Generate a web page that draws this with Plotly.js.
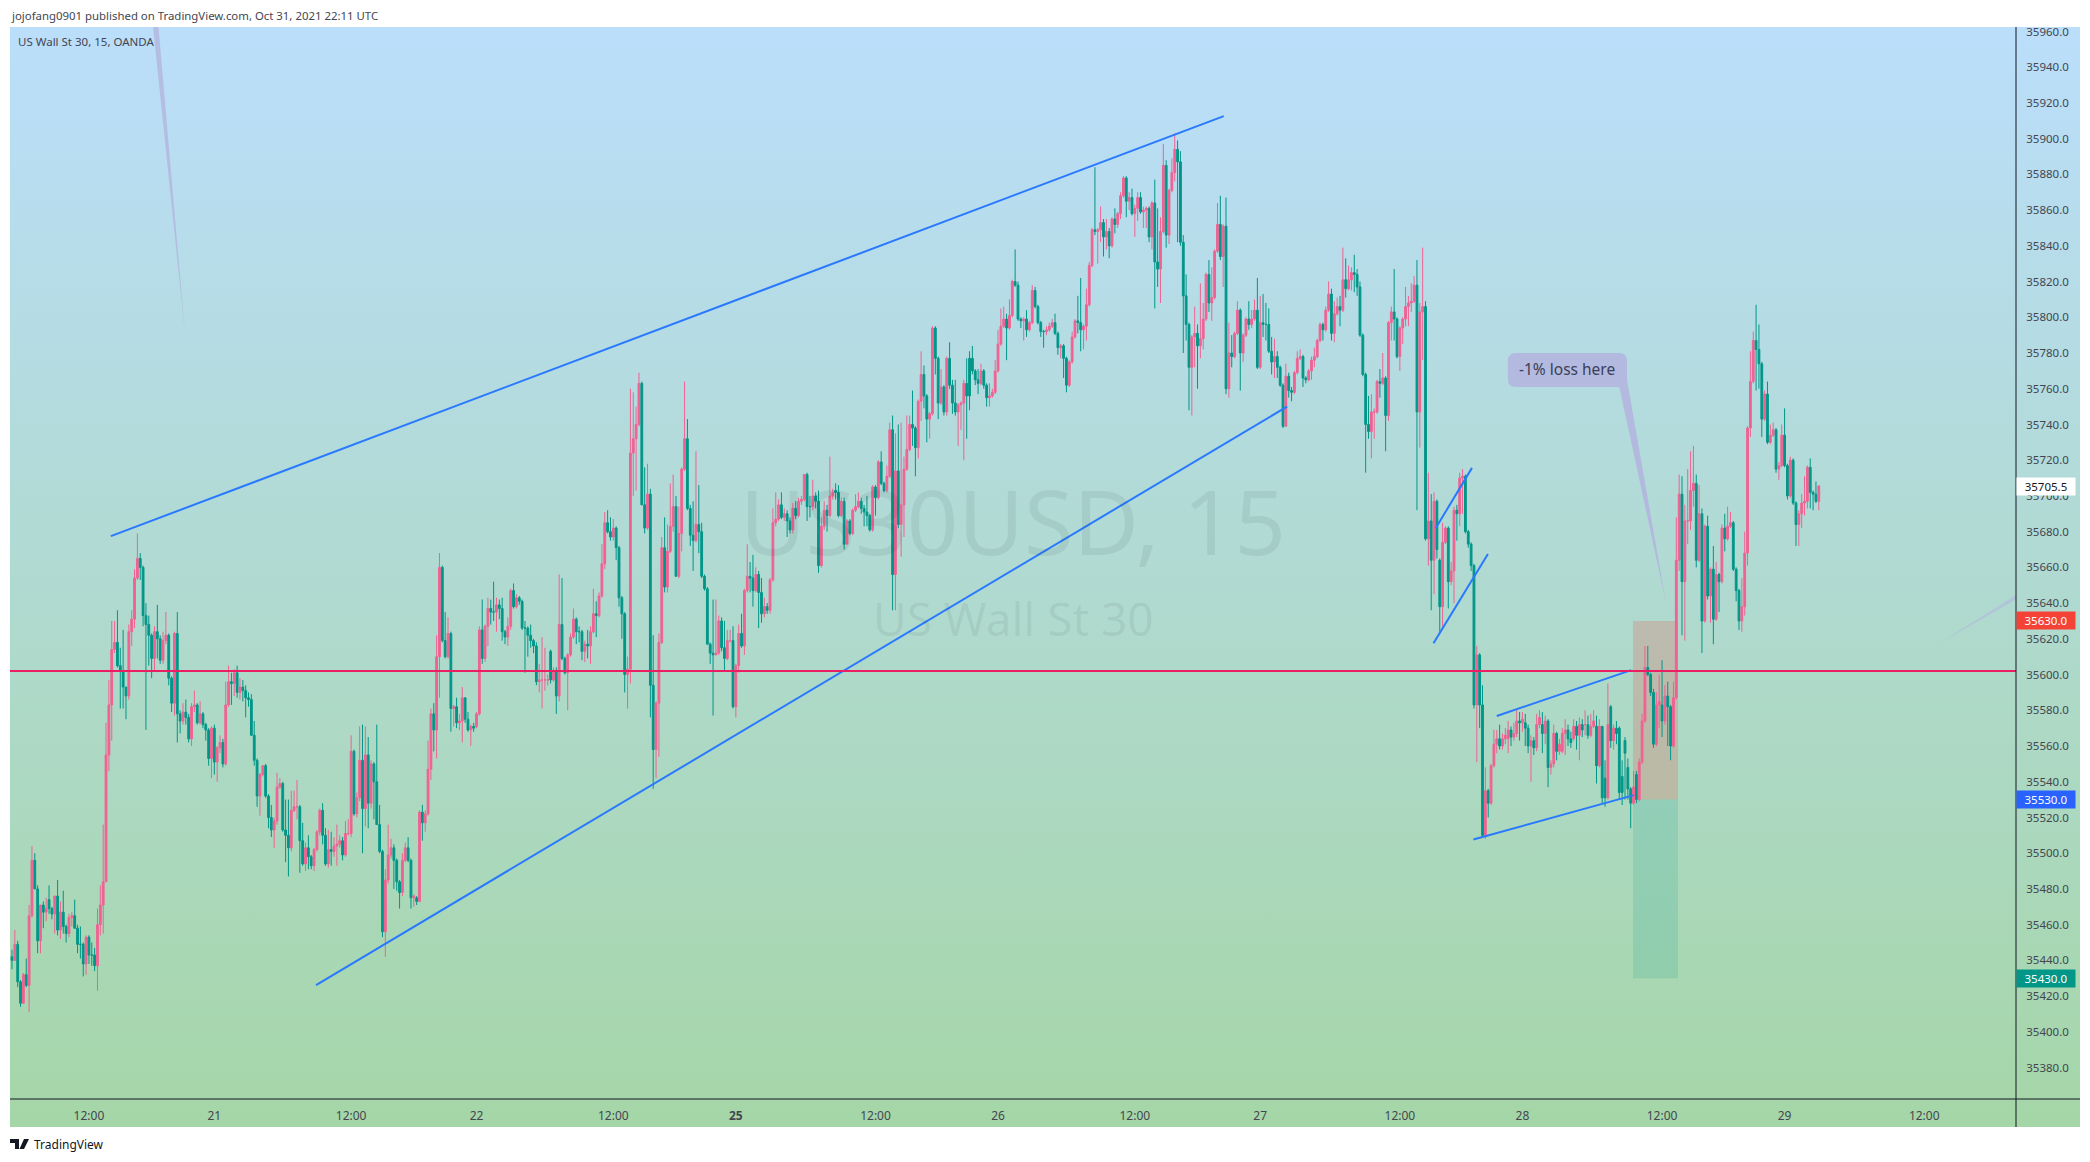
<!DOCTYPE html>
<html>
<head>
<meta charset="utf-8">
<title>US Wall St 30, 15, OANDA</title>
<script src="https://cdn.plot.ly/plotly-3.0.1.min.js"></script>
<style>
  html, body { margin: 0; padding: 0; background: #fff; }
  #panel { position: absolute; left: 10px; top: 27px; width: 2070px; height: 1100px;
           background: linear-gradient(#bbdefb, #a5d6a7); }
  #chart { position: absolute; left: 0; top: 0; width: 2090px; height: 1162px; }
</style>
</head>
<body>
<div id="panel"></div>
<div id="chart"></div>
<script>
// ---- Data (prices are stored minus priceBase) ----
const priceBase = 35000;

const opens = [
  442,440,449,428,416,432,426,465,496,480, 451,471,467,474,469,466,476,457,467,459,
  455,464,465,458,449,449,438,453,443,443, 437,460,471,484,555,583,614,618,605,602,
  593,588,624,631,654,665,660,633,628,622, 609,624,620,608,619,622,598,584,623,578,
  574,579,576,564,582,583,573,578,572,569, 553,570,551,559,562,550,583,596,595,601,
  590,593,591,587,586,566,552,532,544,549, 532,520,513,518,537,539,513,510,503,524,
  526,526,507,494,503,498,493,502,512,524, 510,494,502,501,504,505,507,499,511,511,
  557,522,531,552,525,555,528,550,540,516, 501,456,485,499,503,496,484,478,496,503,
  496,475,475,473,523,517,522,547,578,569, 610,660,619,610,623,581,582,573,574,587,
  575,569,571,571,578,625,609,627,637,635, 635,639,
  637,624,621,627,647,638,643,641,626,626, 622,619,616,596,597,597,597,613,597,602,
  588,628,609,601,611,621,631,624,624,613, 617,616,624,634,633,644,662,685,680,677,
  682,671,643,634,600,603,724,732,740,763, 695,682,701,594,558,584,618,671,649,669,
  683,694,655,679,715,732,693,678,675,684, 680,655,648,617,612,611,612,630,615,609,
  619,619,582,605,623,616,647,655,654,647, 656,646,634,638,636,653,685,687,695,688,
  690,686,681,693,689,697,698,712,694,694, 700,697,
  661,683,692,689,700,703,702,689,697,673, 686,679,692,694,697,693,691,689,681,705,
  699,719,707,703,711,737,656,714,684,695, 715,726,740,738,727,753,768,756,743,746,
  794,777,752,761,747,777,762,752,747,751, 752,763,777,777,770,765,763,770,762,755,
  756,758,770,785,795,799,794,801,820,818, 799,798,799,793,797,815,806,797,792,792,
  793,795,797,791,783,784,777,762,775,789, 798,797,793,795,807,829,
  849,848,849,853,845,848,840,855,852,858, 868,878,865,867,858,861,867,859,860,861,
  845,864,831,827,848,885,846,871,881,894, 887,842,812,796,772,789,791,784,788,799,
  824,808,811,837,852,834,851,760,780,778, 791,804,780,790,799,796,799,804,772,797,
  796,796,781,775,778,772,762,739,767,759, 758,769,777,778,766,765,770,776,778,787,
  796,793,804,813,791,802,806,804,821,816, 821,825,824,817,790,768,740,736,747,747,
  764,763,766,745,797,803,799,778,794,799, 806,808,809,818,747,803,
  806,676,686,664,697,664,638,674,682,652, 658,692,690,710,711,680,673,661,583,611,
  583,510,535,528,549,561,564,560,564,564, 569,565,567,574,573,573,570,560,563,559,
  572,572,567,574,548,550,567,557,557,567, 569,564,564,571,566,572,572,572,566,571,
  571,549,571,542,531,582,563,570,570,543, 563,548,536,528,544,530,551,574,604,600,
  590,561,583,583,574,588,582,560,587,
  664,701,652,686,686,703,707,664,690,630, 683,644,659,631,656,652,682,676,683,685,
  659,647,630,638,668,738,764,787,782,774, 743,757,730,734,737,715,717,734,717,700,
  720,696,684,690,696,697,716,702,701,697
];

const highs = [
  446,457,451,429,433,441,471,504,500,482, 471,473,475,482,470,476,485,473,479,460,
  466,467,474,460,459,450,454,454,450,447, 469,482,516,573,597,630,630,636,615,625,
  593,628,636,659,679,668,661,640,633,623, 627,639,622,624,635,623,599,624,635,580,
  584,586,578,584,591,584,585,579,573,570, 571,572,560,566,564,596,605,601,603,605,
  598,597,594,590,589,574,553,545,549,550, 533,527,520,545,542,540,530,530,535,535,
  541,527,517,506,510,499,503,513,525,528, 514,513,512,509,516,510,509,518,519,566,
  558,534,571,572,571,565,552,551,572,527, 502,491,516,508,505,497,485,500,506,509,
  497,477,476,524,527,524,563,581,584,622, 668,661,635,632,624,583,587,578,593,587,
  579,572,573,579,627,642,628,643,642,652, 643,642,
  643,625,632,648,651,645,644,642,630,627, 628,620,618,606,621,615,600,614,604,604,
  656,654,610,612,623,637,632,627,625,619, 625,627,648,641,646,673,691,692,688,687,
  683,672,644,635,610,760,758,750,769,764, 716,718,704,622,585,623,677,688,684,707,
  712,700,694,716,764,743,695,697,725,706, 685,656,649,618,642,642,633,632,630,625,
  625,627,606,628,634,648,673,663,667,660, 658,654,643,640,654,693,702,698,702,693,
  692,688,696,697,699,700,712,713,700,709, 702,703,
  688,697,695,722,704,707,706,699,699,687, 687,693,701,702,699,695,700,690,706,706,
  720,725,708,717,741,745,735,740,741,722, 745,745,759,739,754,781,773,757,747,795,
  795,778,771,762,778,786,765,765,752,753, 765,777,781,784,771,771,774,771,763,763,
  760,776,793,805,806,802,810,821,838,820, 800,800,804,798,818,817,807,798,793,795,
  797,799,802,792,785,785,778,776,792,799, 812,822,796,816,831,850,
  884,850,862,855,855,850,856,861,859,870, 879,879,870,872,863,870,870,862,862,862,
  865,877,861,856,897,888,872,889,903,899, 893,846,824,797,790,806,796,819,808,825,
  832,828,838,864,868,852,867,797,790,792, 809,805,791,800,809,804,810,822,812,813,
  808,805,789,788,781,773,763,774,769,761, 770,781,782,779,767,771,778,783,788,797,
  797,806,820,816,809,811,812,839,833,829, 828,835,827,820,791,769,756,757,749,765,
  771,780,767,798,806,827,800,795,800,817, 812,819,823,832,808,839,
  809,713,701,702,698,665,685,683,683,663, 694,695,713,715,712,681,674,662,616,612,
  594,548,536,550,569,569,572,567,570,574, 571,573,580,579,579,578,572,566,565,578,
  580,579,577,575,552,572,568,564,570,575, 572,568,575,574,576,575,580,577,578,580,
  577,575,571,552,595,583,572,574,571,552, 565,553,537,546,546,553,578,616,616,601,
  592,590,600,608,594,596,583,596,688,
  712,711,695,715,725,728,712,706,693,684, 689,660,672,663,657,684,690,694,691,686,
  660,648,654,680,739,781,792,807,796,775, 759,764,740,741,738,719,740,749,718,722,
  721,697,692,701,711,717,721,703,708,706
];

const lows = [
  435,440,425,414,416,425,411,464,480,444, 444,458,462,466,463,455,454,452,455,450,
  453,459,458,444,441,431,432,438,437,434, 423,454,455,484,546,563,612,604,581,581,
  575,586,616,626,653,653,627,569,605,598, 602,609,606,606,617,594,579,577,562,567,
  572,572,562,560,579,572,572,570,563,549, 542,544,540,556,548,549,582,583,588,587,
  586,585,576,582,566,549,526,521,543,531, 514,509,503,516,536,512,495,487,501,523,
  519,489,493,490,491,491,490,501,510,505, 493,492,493,498,493,503,496,498,510,509,
  521,520,529,500,515,514,525,519,516,500, 453,442,483,497,480,479,469,476,495,495,
  469,470,471,473,507,512,521,541,557,553, 587,618,609,609,568,571,570,569,562,573,
  568,560,568,570,577,606,607,616,628,630, 624,631,
  619,617,616,625,637,637,639,625,601,610, 615,612,594,590,581,591,594,595,596,578,
  585,608,600,580,610,620,617,618,608,607, 609,606,623,621,632,643,659,679,675,675,
  664,638,620,590,581,595,700,703,739,695, 679,681,576,536,542,554,617,646,646,668,
  680,655,654,669,714,692,672,658,674,668, 654,647,617,606,577,612,611,613,602,608,
  618,581,576,601,615,611,646,646,638,646, 626,629,632,634,634,652,683,686,687,686,
  677,679,679,687,688,695,697,686,688,692, 693,657,
  660,681,680,688,698,698,688,688,670,673, 678,678,691,693,690,683,683,680,680,689,
  698,706,702,702,710,636,636,682,666,677, 714,725,728,711,721,742,749,730,732,745,
  768,743,751,745,745,760,746,745,728,737, 720,732,748,768,762,757,762,760,750,750,
  755,757,769,784,794,776,793,800,817,798, 794,787,789,792,796,805,796,789,783,790,
  792,794,790,779,777,766,758,761,774,788, 791,781,782,787,806,828,
  846,830,842,834,838,833,839,847,850,855, 867,856,860,857,845,854,858,850,850,842,
  838,805,817,808,847,839,841,870,876,842, 840,780,787,748,745,772,760,777,782,798,
  803,798,810,836,832,817,757,755,772,777, 790,759,775,789,793,794,798,771,771,789,
  787,780,768,766,766,761,738,739,755,753, 757,768,776,761,763,764,765,772,777,786,
  787,792,803,787,786,801,795,803,811,815, 815,814,812,789,767,713,732,721,732,746,
  755,762,725,742,787,787,777,770,785,795, 795,803,808,692,727,776,
  675,661,636,645,665,624,625,673,637,650, 640,675,683,690,679,671,658,581,551,570,
  509,508,520,527,548,556,558,558,561,556, 560,563,565,563,568,560,556,540,555,557,
  570,556,561,537,544,548,552,555,556,555, 560,559,563,558,552,565,566,564,565,570,
  539,548,528,526,530,559,558,561,530,527, 530,530,514,527,528,529,550,573,599,588,
  559,560,570,565,572,560,552,559,586,
  658,622,619,673,681,694,660,663,612,629, 642,629,617,630,635,651,669,675,682,658,
  641,625,624,633,661,733,763,759,760,733, 742,729,729,733,713,709,716,716,698,699,
  695,672,672,682,689,693,693,692,696,692
];

const closes = [
  440,449,428,416,432,426,465,496,480,451, 471,467,469,469,466,476,457,467,459,455,
  464,465,458,449,449,438,453,443,443,437, 460,471,484,555,583,614,618,605,602,593,
  588,624,631,654,665,660,633,628,622,609, 624,620,608,619,622,598,584,623,578,574,
  579,576,564,582,583,573,578,572,569,553, 570,551,559,562,550,583,596,595,601,590,
  593,591,587,586,566,552,532,544,549,532, 520,513,518,537,539,513,510,503,524,526,
  526,507,494,503,498,493,502,512,524,510, 494,502,501,504,505,507,499,511,511,557,
  522,531,552,525,555,528,550,540,516,501, 456,485,499,503,496,484,478,496,503,496,
  475,476,473,523,517,522,547,578,569,610, 660,619,610,623,581,582,573,574,587,575,
  569,571,570,578,625,609,627,637,635,635, 639,637,
  624,621,627,647,638,643,641,626,626,622, 619,616,596,597,597,597,597,597,602,588,
  628,609,601,611,621,631,624,624,613,617, 616,624,634,633,644,662,685,680,677,682,
  671,643,634,600,603,724,732,740,763,695, 682,701,594,558,584,618,671,649,669,683,
  694,655,679,715,732,693,678,675,684,680, 655,648,617,612,611,612,630,615,609,619,
  619,582,605,623,616,647,655,654,647,656, 646,634,638,636,653,685,687,695,688,690,
  686,681,693,689,697,698,712,694,694,700, 697,661,
  683,692,689,700,702,702,689,697,673,686, 679,692,694,697,693,691,689,681,705,699,
  719,707,703,711,737,656,714,684,695,715, 726,740,738,727,753,768,756,743,746,794,
  777,752,761,747,777,762,752,747,751,752, 763,756,756,770,765,763,770,762,755,756,
  758,770,785,795,799,794,801,820,818,799, 798,799,793,797,815,806,797,792,792,793,
  795,797,791,783,784,777,762,775,789,798, 797,793,795,807,829,849,
  848,849,853,845,848,840,855,852,858,868, 878,865,867,858,861,867,859,860,861,845,
  864,831,827,848,885,846,871,881,894,887, 842,812,796,772,789,791,784,788,799,824,
  808,811,837,852,834,851,760,780,778,791, 804,780,790,799,796,799,804,772,797,796,
  796,781,775,778,772,762,739,767,759,758, 769,777,778,766,765,770,776,778,787,796,
  793,804,813,791,802,806,804,821,816,821, 825,824,817,790,768,740,736,747,747,764,
  763,766,745,797,803,799,778,794,799,806, 808,809,818,747,803,806,
  676,686,664,697,670,638,674,682,652,658, 692,690,710,711,680,673,661,583,611,583,
  510,535,528,549,561,564,560,564,566,569, 565,567,574,573,575,570,560,563,559,572,
  576,567,574,548,550,567,557,561,567,569, 564,562,571,566,572,569,572,566,571,574,
  549,571,531,531,572,563,570,567,534,534, 556,536,528,537,530,551,574,604,600,590,
  561,583,585,574,588,582,560,587,664,
  701,652,686,686,703,707,664,690,630,683, 644,659,631,656,652,682,676,683,685,659,
  647,630,638,668,738,764,787,782,774,743, 757,730,734,737,715,717,734,717,700,720,
  696,684,690,696,697,716,702,701,697,705.5
];

const priceTicks = [35380,35400,35420,35440,35460,35480,35500,35520,35540,35560,35580,35600,
  35620,35640,35660,35680,35700,35720,35740,35760,35780,35800,35820,35840,35860,35880,
  35900,35920,35940,35960];
const timeTickBars = [27,71,119,163,211,254,303,346,394,438,487,530,579,622,671];
const timeTickLabels = ['12:00','21','12:00','22','12:00','<b>25</b>','12:00','26','12:00','27',
  '12:00','28','12:00','29','12:00'];

// Drawn objects: [bar, price] at both ends
const channelTop = [[34.7, 35677.5], [425.2, 35912.6]];
const channelBottom = [[106.7, 35426.2], [447.4, 35750]];
const flagTop = [[499.6, 35682], [512.3, 35715.7]];
const flagBottom = [[498.8, 35617.5], [517.9, 35667.5]];
const wedgeTop = [[521, 35576.8], [568.2, 35602.5]];
const wedgeBottom = [[512.8, 35507.7], [569.1, 35532.5]];
const levelLine = 35602;
const entryPrice = 35530, stopPrice = 35630, targetPrice = 35430, lastPrice = 35705.5;
const positionBars = [568.8, 584.6];

// ---- Chart ----
const chartFont = '"Noto Sans", "Open Sans", sans-serif';
const textColor = '#434651';
const blue = '#2979ff';
const bubble = 'rgba(179,183,222,0.95)';

// The plot runs from 10 to 2016 across and 27 to 1099 down
const paperX = (px) => (px - 10) / 2006;
const paperY = (py) => (1099 - py) / 1072;

const priced = (arr) => arr.map(v => v + priceBase);

const candles = {
  type: 'candlestick',
  x: closes.map((_, i) => i),
  open: priced(opens),
  high: priced(highs),
  low: priced(lows),
  close: priced(closes),
  increasing: { line: { color: '#f06292', width: 1 }, fillcolor: '#f06292' },
  decreasing: { line: { color: '#009688', width: 1 }, fillcolor: '#009688' },
  whiskerwidth: 0,
  hoverinfo: 'skip',
  showlegend: false
};

const trendLines = [channelTop, channelBottom, flagTop, flagBottom, wedgeTop, wedgeBottom].map(pts => ({
  type: 'scatter',
  mode: 'lines',
  x: pts.map(p => p[0]),
  y: pts.map(p => p[1]),
  line: { color: blue, width: 2 },
  hoverinfo: 'skip',
  showlegend: false
}));

const shapes = [
  // position boxes
  { type: 'rect', layer: 'below', xref: 'x', yref: 'y', x0: positionBars[0], x1: positionBars[1],
    y0: entryPrice, y1: stopPrice, fillcolor: 'rgba(244,67,54,0.2)', line: { width: 0 } },
  { type: 'rect', layer: 'below', xref: 'x', yref: 'y', x0: positionBars[0], x1: positionBars[1],
    y0: targetPrice, y1: entryPrice, fillcolor: 'rgba(0,150,136,0.14)', line: { width: 0 } },
  // horizontal level
  { type: 'line', layer: 'above', xref: 'paper', yref: 'y', x0: 0, x1: 1, y0: levelLine, y1: levelLine,
    line: { color: '#e91e63', width: 2 } },
  // axis lines carried through the scale strips
  { type: 'line', xref: 'paper', yref: 'paper', x0: 1, x1: 1, y0: paperY(1127), y1: 1,
    line: { color: '#131722', width: 1 } },
  { type: 'line', xref: 'paper', yref: 'paper', x0: 0, x1: paperX(2080), y0: 0, y1: 0,
    line: { color: '#131722', width: 1 } },
  // "-1% loss here" bubble with its tail
  { type: 'path', layer: 'below', xref: 'x', yref: 'y', fillcolor: bubble, line: { width: 0 },
    path: 'M 527.7,35780 L 563.9,35780 Q 566.7,35780 566.7,35775.5 L 566.7,35765 L 580.4,35640 ' +
          'L 564,35761 L 527.7,35761 Q 524.9,35761 524.9,35765.5 L 524.9,35775.5 Q 524.9,35780 527.7,35780 Z' },
  // tails of two more bubbles that sit outside the view
  { type: 'path', layer: 'below', xref: 'x', yref: 'y', fillcolor: 'rgba(179,183,222,0.85)', line: { width: 0 },
    path: 'M 49.5,35962.5 L 51.4,35962.5 L 60.7,35791 Z' },
  { type: 'path', layer: 'below', xref: 'x', yref: 'y', fillcolor: 'rgba(179,183,222,0.6)', line: { width: 0 },
    path: 'M 703.2,35644.5 L 703.2,35642 L 676.5,35617.6 Z' },
  // TradingView mark
  { type: 'path', xref: 'paper', yref: 'paper', fillcolor: '#131722', line: { width: 0 },
    path: `M ${paperX(10)},${paperY(1139)} L ${paperX(19)},${paperY(1139)} L ${paperX(19)},${paperY(1149)} ` +
          `L ${paperX(15)},${paperY(1149)} L ${paperX(15)},${paperY(1143)} L ${paperX(10)},${paperY(1143)} Z` },
  { type: 'path', xref: 'paper', yref: 'paper', fillcolor: '#131722', line: { width: 0 },
    path: `M ${paperX(24)},${paperY(1139)} L ${paperX(29)},${paperY(1139)} L ${paperX(24)},${paperY(1149)} ` +
          `L ${paperX(19.5)},${paperY(1149)} Z` }
];

// Coloured price tags on the right scale
function priceTag(price, bg, color) {
  return {
    xref: 'paper', yref: 'y', x: 1, y: price, xanchor: 'left', yanchor: 'middle',
    text: price.toFixed(1), showarrow: false, width: 54, height: 13, align: 'center',
    bgcolor: bg, borderpad: 2, font: { family: chartFont, size: 11.5, color: color }
  };
}

function pageText(text, px, py, size, color, anchor) {
  return {
    xref: 'paper', yref: 'paper', x: paperX(px), y: paperY(py), xanchor: anchor || 'left', yanchor: 'middle',
    text: text, showarrow: false, font: { family: chartFont, size: size, color: color }
  };
}

const annotations = [
  pageText('jojofang0901 published on TradingView.com, Oct 31, 2021 22:11 UTC', 9, 15, 11.4, textColor),
  pageText('US Wall St 30, 15, OANDA', 16, 41, 11.5, textColor),
  pageText('TradingView', 32, 1144, 12, '#131722'),
  pageText('US30USD, 15', 1013, 520, 90, 'rgba(19,23,34,0.07)', 'center'),
  pageText('US Wall St 30', 1013, 618, 46, 'rgba(19,23,34,0.07)', 'center'),
  pageText('-1% loss here', 1567, 369, 15.5, '#3c4058', 'center'),
  priceTag(lastPrice, '#ffffff', '#131722'),
  priceTag(stopPrice, '#f44336', '#ffffff'),
  priceTag(entryPrice, '#2962ff', '#ffffff'),
  priceTag(targetPrice, '#009688', '#ffffff')
];

const layout = {
  width: 2090,
  height: 1162,
  autosize: false,
  margin: { l: 10, r: 74, t: 27, b: 63, pad: 0 },
  paper_bgcolor: 'rgba(0,0,0,0)',
  plot_bgcolor: 'rgba(0,0,0,0)',
  showlegend: false,
  hovermode: false,
  boxgap: 0.1,
  xaxis: {
    type: 'linear',
    range: [-0.7, 703.2],
    rangeslider: { visible: false },
    showgrid: false,
    zeroline: false,
    showline: false,
    tickmode: 'array',
    tickvals: timeTickBars,
    ticktext: timeTickLabels,
    ticks: 'outside',
    ticklen: 6,
    tickcolor: 'rgba(0,0,0,0)',
    tickfont: { family: chartFont, size: 12, color: textColor }
  },
  yaxis: {
    side: 'right',
    range: [35362.4, 35962.5],
    showgrid: false,
    zeroline: false,
    showline: false,
    tickmode: 'array',
    tickvals: priceTicks,
    tickformat: '.1f',
    ticks: 'outside',
    ticklen: 7,
    tickcolor: 'rgba(0,0,0,0)',
    tickfont: { family: chartFont, size: 11.5, color: textColor }
  },
  shapes: shapes,
  annotations: annotations
};

Plotly.newPlot('chart', [candles, ...trendLines], layout, { displayModeBar: false, staticPlot: true });
</script>
</body>
</html>
